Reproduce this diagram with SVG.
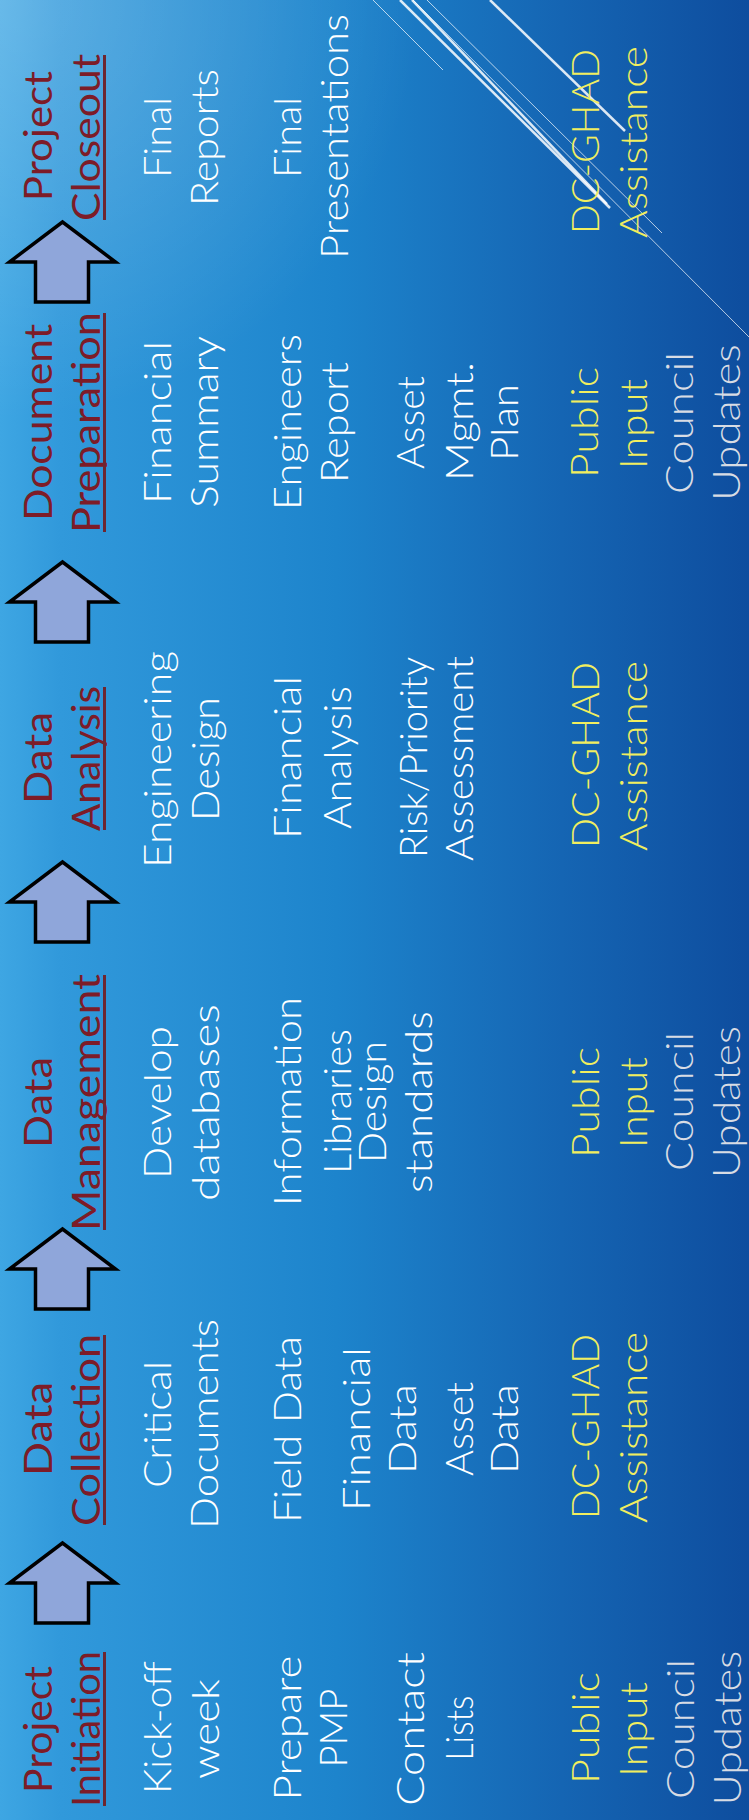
<svg xmlns="http://www.w3.org/2000/svg" width="749" height="1820" viewBox="0 0 749 1820">
<defs>
<linearGradient id="bg" gradientUnits="userSpaceOnUse" x1="0" y1="0" x2="749" y2="0">
<stop offset="0" stop-color="#3ea6e3"/>
<stop offset="0.08" stop-color="#3199db"/>
<stop offset="0.45" stop-color="#1d84cc"/>
<stop offset="0.75" stop-color="#1565b3"/>
<stop offset="1" stop-color="#0e4d9e"/>
</linearGradient>
<radialGradient id="glow" gradientUnits="userSpaceOnUse" cx="0" cy="0" r="420">
<stop offset="0" stop-color="#ffffff" stop-opacity="0.22"/>
<stop offset="1" stop-color="#ffffff" stop-opacity="0"/>
</radialGradient>
<path id="arrow" d="M35.5,0 L35.5,-40 L9.5,-40 L62.5,-80 L115.5,-40 L88.5,-40 L88.5,0 Z"/>
<style>
text{font-family:Lato,"DejaVu Sans","Liberation Sans",sans-serif;text-anchor:middle;font-weight:300}
.h{font-size:38px;fill:#7d1c28;font-weight:400}
.b{font-size:38px;fill:#ffffff}
.y{font-size:38px;fill:#f1ee5f}
.g{font-size:38px;fill:#d8dce4}
.ul{fill:#6e2630}
.arr{fill:#8fa6da;stroke:#000;stroke-width:3.5;stroke-linejoin:miter}
.thick{stroke:#ffffff;stroke-width:2.5;stroke-opacity:0.85;fill:none}
.thin{stroke:#ffffff;stroke-width:1;stroke-opacity:0.7;fill:none}
</style>
</defs>
<rect x="0" y="0" width="749" height="1820" fill="url(#bg)"/>
<rect x="0" y="0" width="749" height="1820" fill="url(#glow)"/>
<g id="decor">
<line class="thin" x1="373" y1="0" x2="443" y2="70"/>
<line class="thick" x1="400" y1="0" x2="610" y2="208"/>
<line class="thick" x1="412" y1="0" x2="607" y2="204"/>
<line class="thin" x1="413" y1="0" x2="749" y2="337"/>
<line class="thin" x1="427" y1="0" x2="662" y2="233"/>
<line class="thick" x1="490" y1="0" x2="625" y2="131"/>
</g>
<g id="connectors">
<use href="#arrow" class="arr" transform="translate(0,1623)"/>
<use href="#arrow" class="arr" transform="translate(0,1309)"/>
<use href="#arrow" class="arr" transform="translate(0,942)"/>
<use href="#arrow" class="arr" transform="translate(0,642)"/>
<use href="#arrow" class="arr" transform="translate(0,302)"/>
</g>
<g transform="translate(0,1820) rotate(-90)">
<g id="project-initiation">
<text class="h" x="90.5" y="52" textLength="127" lengthAdjust="spacingAndGlyphs">Project</text>
<text class="h" x="91" y="100" textLength="156" lengthAdjust="spacingAndGlyphs">Initiation</text>
<rect class="ul" x="14" y="103" width="154" height="3"/>
<text class="b" x="92.5" y="171" textLength="133" lengthAdjust="spacingAndGlyphs">Kick-off</text>
<text class="b" x="91" y="219" textLength="100" lengthAdjust="spacingAndGlyphs">week</text>
<text class="b" x="92" y="301" textLength="145" lengthAdjust="spacingAndGlyphs">Prepare</text>
<text class="b" x="92" y="347" textLength="79" lengthAdjust="spacingAndGlyphs">PMP</text>
<text class="b" x="91" y="424" textLength="154" lengthAdjust="spacingAndGlyphs">Contact</text>
<text class="b" x="92" y="473" textLength="65" lengthAdjust="spacingAndGlyphs">Lists</text>
<text class="y" x="92" y="599" textLength="112" lengthAdjust="spacingAndGlyphs">Public</text>
<text class="y" x="90.5" y="646.5" textLength="95" lengthAdjust="spacingAndGlyphs">Input</text>
<text class="g" x="91" y="694" textLength="140" lengthAdjust="spacingAndGlyphs">Council</text>
<text class="g" x="92" y="741" textLength="155" lengthAdjust="spacingAndGlyphs">Updates</text>
</g>
<g id="data-collection">
<text class="h" x="391" y="52" textLength="94" lengthAdjust="spacingAndGlyphs">Data</text>
<text class="h" x="390" y="100" textLength="192" lengthAdjust="spacingAndGlyphs">Collection</text>
<rect class="ul" x="295" y="103" width="190" height="3"/>
<text class="b" x="395.5" y="171" textLength="127" lengthAdjust="spacingAndGlyphs">Critical</text>
<text class="b" x="396" y="218" textLength="210" lengthAdjust="spacingAndGlyphs">Documents</text>
<text class="b" x="390.5" y="301" textLength="187" lengthAdjust="spacingAndGlyphs">Field Data</text>
<text class="b" x="391" y="370" textLength="164" lengthAdjust="spacingAndGlyphs">Financial</text>
<text class="b" x="391" y="416" textLength="90" lengthAdjust="spacingAndGlyphs">Data</text>
<text class="b" x="391" y="473" textLength="94" lengthAdjust="spacingAndGlyphs">Asset</text>
<text class="b" x="391" y="517.5" textLength="90" lengthAdjust="spacingAndGlyphs">Data</text>
<text class="y" x="393.5" y="599" textLength="185" lengthAdjust="spacingAndGlyphs">DC-GHAD</text>
<text class="y" x="392.5" y="646.5" textLength="191" lengthAdjust="spacingAndGlyphs">Assistance</text>
</g>
<g id="data-management">
<text class="h" x="717.5" y="52" textLength="91" lengthAdjust="spacingAndGlyphs">Data</text>
<text class="h" x="717.5" y="100" textLength="257" lengthAdjust="spacingAndGlyphs">Management</text>
<rect class="ul" x="590" y="103" width="255" height="3"/>
<text class="b" x="717.5" y="171" textLength="153" lengthAdjust="spacingAndGlyphs">Develop</text>
<text class="b" x="717.5" y="219" textLength="197" lengthAdjust="spacingAndGlyphs">databases</text>
<text class="b" x="718.5" y="301" textLength="209" lengthAdjust="spacingAndGlyphs">Information</text>
<text class="b" x="718.5" y="351" textLength="145" lengthAdjust="spacingAndGlyphs">Libraries</text>
<text class="b" x="718" y="385.5" textLength="122" lengthAdjust="spacingAndGlyphs">Design</text>
<text class="b" x="718" y="431.5" textLength="182" lengthAdjust="spacingAndGlyphs">standards</text>
<text class="y" x="717.5" y="599" textLength="111" lengthAdjust="spacingAndGlyphs">Public</text>
<text class="y" x="717.5" y="646.5" textLength="91" lengthAdjust="spacingAndGlyphs">Input</text>
<text class="g" x="718.5" y="692.5" textLength="139" lengthAdjust="spacingAndGlyphs">Council</text>
<text class="g" x="718" y="739.5" textLength="152" lengthAdjust="spacingAndGlyphs">Updates</text>
</g>
<g id="data-analysis">
<text class="h" x="1062" y="52" textLength="92" lengthAdjust="spacingAndGlyphs">Data</text>
<text class="h" x="1061.5" y="100" textLength="145" lengthAdjust="spacingAndGlyphs">Analysis</text>
<rect class="ul" x="990" y="103" width="143" height="3"/>
<text class="b" x="1060.5" y="171" textLength="217" lengthAdjust="spacingAndGlyphs">Engineering</text>
<text class="b" x="1061" y="219" textLength="124" lengthAdjust="spacingAndGlyphs">Design</text>
<text class="b" x="1062.5" y="301" textLength="163" lengthAdjust="spacingAndGlyphs">Financial</text>
<text class="b" x="1062.5" y="351" textLength="143" lengthAdjust="spacingAndGlyphs">Analysis</text>
<text class="b" x="1062.5" y="427" textLength="201" lengthAdjust="spacingAndGlyphs">Risk/Priority</text>
<text class="b" x="1061.5" y="473" textLength="205" lengthAdjust="spacingAndGlyphs">Assessment</text>
<text class="y" x="1065" y="599" textLength="186" lengthAdjust="spacingAndGlyphs">DC-GHAD</text>
<text class="y" x="1064" y="646.5" textLength="190" lengthAdjust="spacingAndGlyphs">Assistance</text>
</g>
<g id="document-preparation">
<text class="h" x="1397.5" y="52" textLength="197" lengthAdjust="spacingAndGlyphs">Document</text>
<text class="h" x="1397.5" y="100" textLength="221" lengthAdjust="spacingAndGlyphs">Preparation</text>
<rect class="ul" x="1288" y="103" width="219" height="3"/>
<text class="b" x="1397.5" y="171" textLength="163" lengthAdjust="spacingAndGlyphs">Financial</text>
<text class="b" x="1398" y="218" textLength="172" lengthAdjust="spacingAndGlyphs">Summary</text>
<text class="b" x="1398" y="301" textLength="176" lengthAdjust="spacingAndGlyphs">Engineers</text>
<text class="b" x="1397.5" y="348" textLength="121" lengthAdjust="spacingAndGlyphs">Report</text>
<text class="b" x="1397.5" y="424" textLength="93" lengthAdjust="spacingAndGlyphs">Asset</text>
<text class="b" x="1398.5" y="473" textLength="119" lengthAdjust="spacingAndGlyphs">Mgmt.</text>
<text class="b" x="1397.5" y="517.5" textLength="77" lengthAdjust="spacingAndGlyphs">Plan</text>
<text class="y" x="1397.5" y="598" textLength="111" lengthAdjust="spacingAndGlyphs">Public</text>
<text class="y" x="1396" y="646.5" textLength="90" lengthAdjust="spacingAndGlyphs">Input</text>
<text class="g" x="1397" y="692.5" textLength="142" lengthAdjust="spacingAndGlyphs">Council</text>
<text class="g" x="1397.5" y="739.5" textLength="157" lengthAdjust="spacingAndGlyphs">Updates</text>
</g>
<g id="project-closeout">
<text class="h" x="1684" y="52" textLength="130" lengthAdjust="spacingAndGlyphs">Project</text>
<text class="h" x="1682.5" y="100" textLength="167" lengthAdjust="spacingAndGlyphs">Closeout</text>
<rect class="ul" x="1600" y="103" width="165" height="3"/>
<text class="b" x="1682.5" y="171" textLength="81" lengthAdjust="spacingAndGlyphs">Final</text>
<text class="b" x="1682.5" y="218" textLength="137" lengthAdjust="spacingAndGlyphs">Reports</text>
<text class="b" x="1682.5" y="301" textLength="81" lengthAdjust="spacingAndGlyphs">Final</text>
<text class="b" x="1683.5" y="348" textLength="245" lengthAdjust="spacingAndGlyphs">Presentations</text>
<text class="y" x="1678.5" y="599" textLength="185" lengthAdjust="spacingAndGlyphs">DC-GHAD</text>
<text class="y" x="1678" y="646.5" textLength="192" lengthAdjust="spacingAndGlyphs">Assistance</text>
</g>
</g>
</svg>
